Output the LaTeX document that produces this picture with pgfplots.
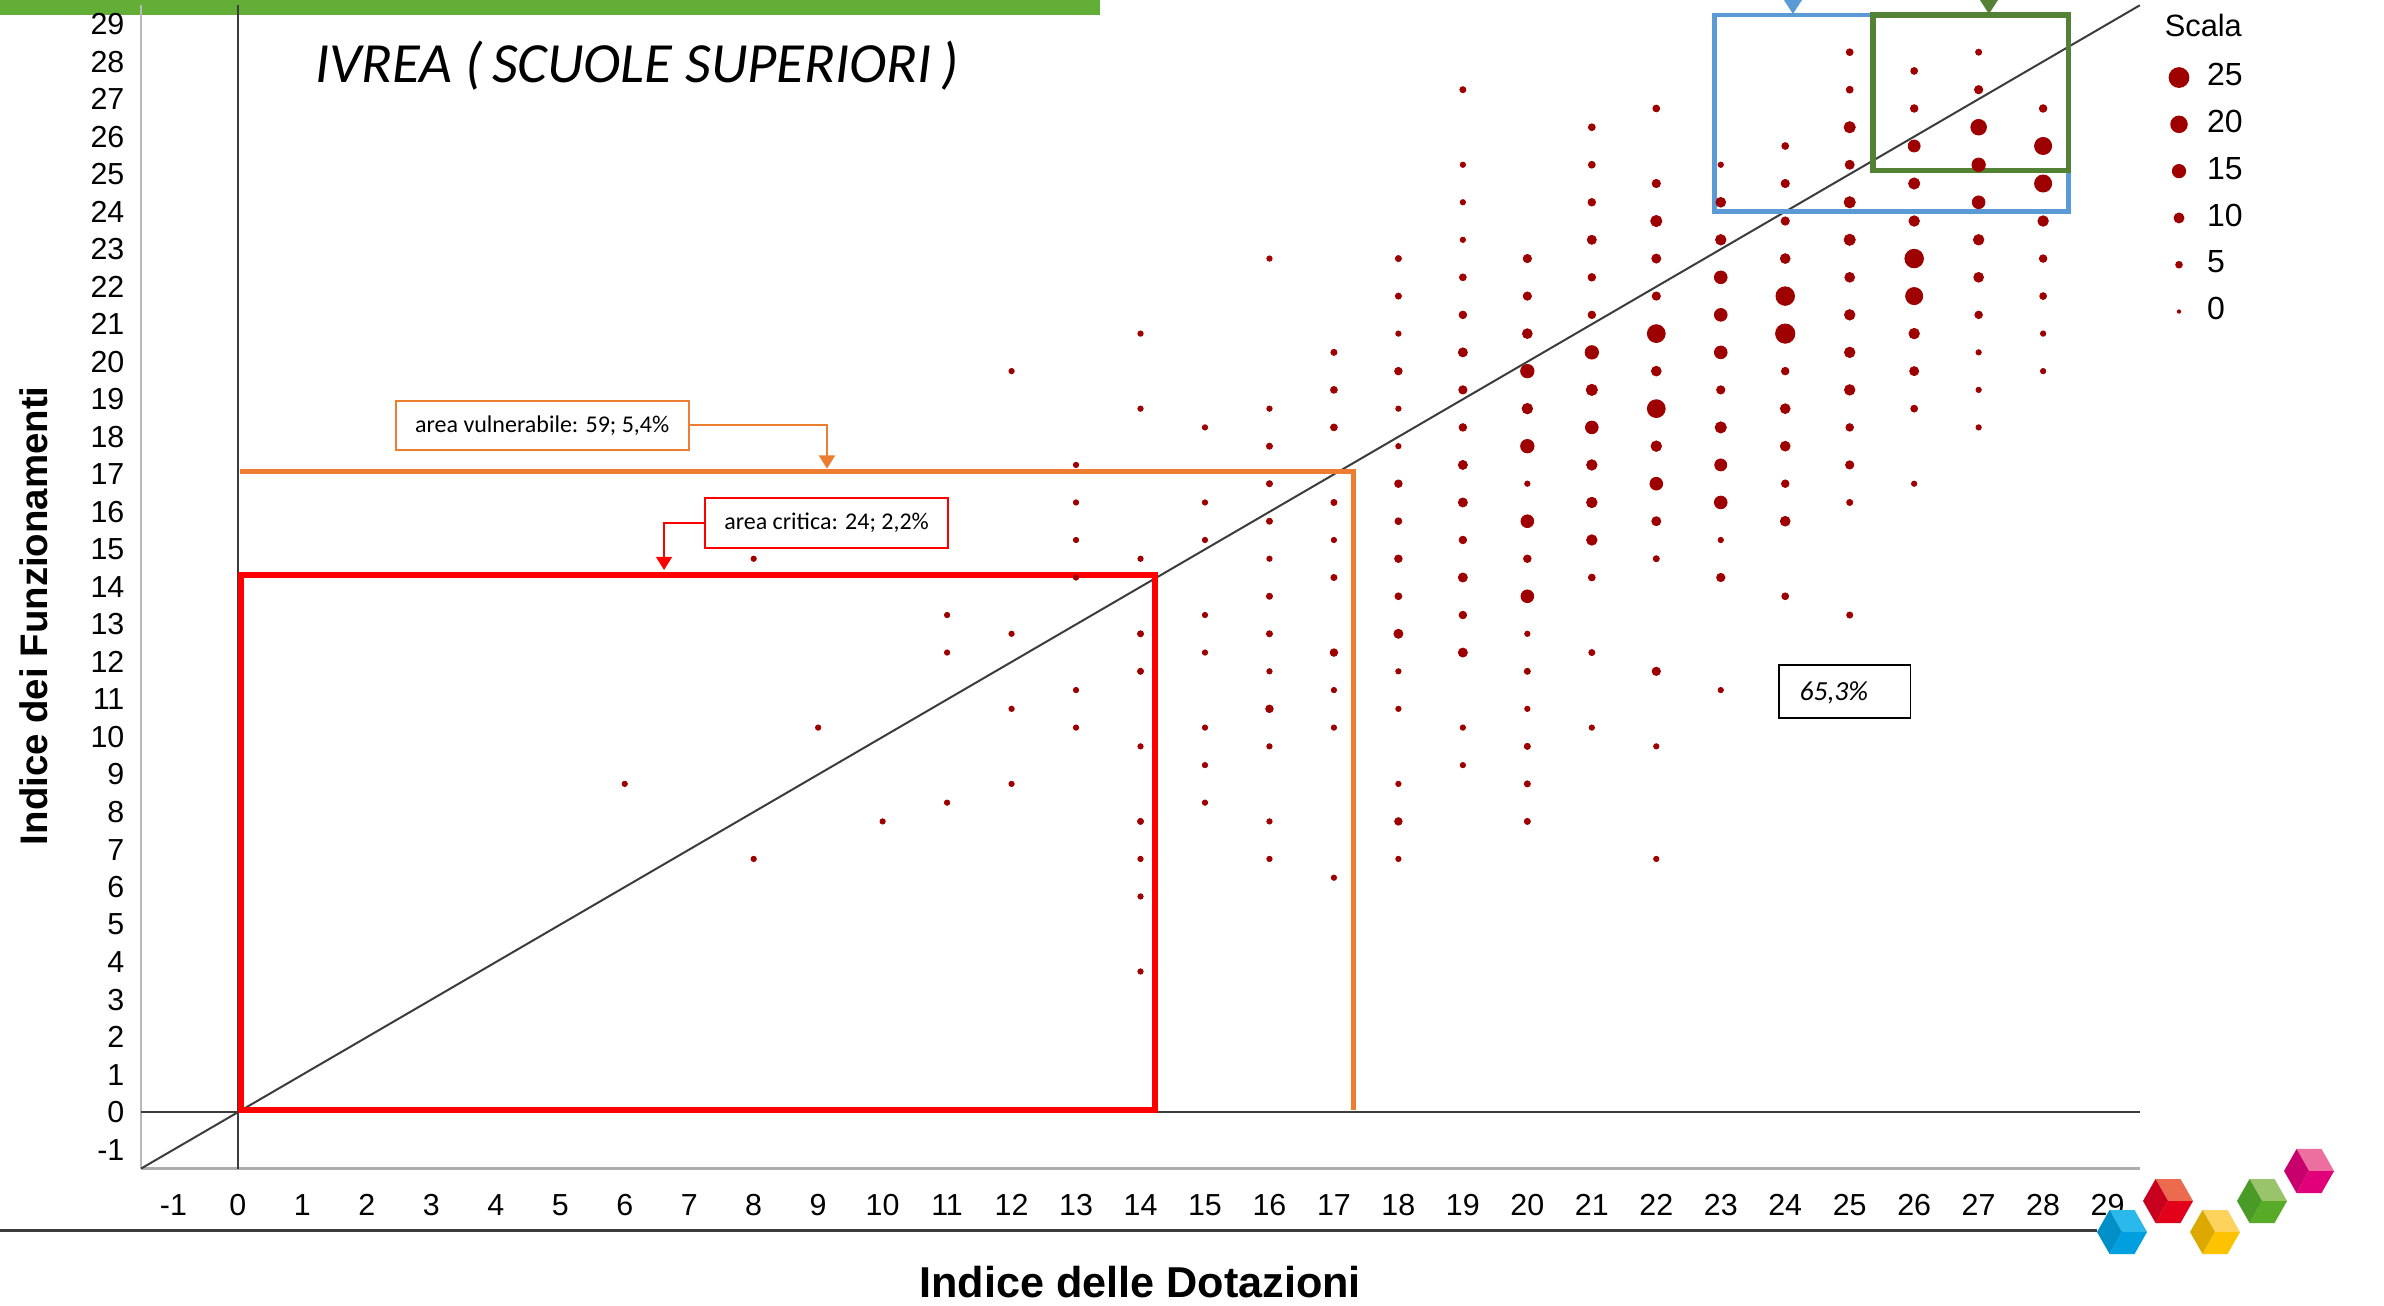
\documentclass[border=0pt]{standalone}
\usepackage{pgfplots}
\usepackage{pgfplotstable}
\pgfplotsset{compat=1.18}
\usepackage{fontspec}
\setmainfont{Carlito}
\newfontfamily\arialf{Liberation Sans}
\usetikzlibrary{arrows.meta}

\definecolor{dotred}{RGB}{158,0,0}
\definecolor{vorange}{RGB}{237,125,49}
\definecolor{cblue}{RGB}{91,155,213}
\definecolor{cgreen}{RGB}{84,130,53}
\definecolor{topgreen}{RGB}{98,174,54}
\definecolor{refgray}{RGB}{60,60,60}
% colori del logo
\definecolor{bluA}{RGB}{43,184,234}\definecolor{bluB}{RGB}{0,144,200}\definecolor{bluC}{RGB}{0,159,224}
\definecolor{redA}{RGB}{236,107,79}\definecolor{redB}{RGB}{200,0,30}\definecolor{redC}{RGB}{227,0,27}
\definecolor{yelA}{RGB}{253,211,93}\definecolor{yelB}{RGB}{219,169,0}\definecolor{yelC}{RGB}{253,195,0}
\definecolor{grnA}{RGB}{154,196,107}\definecolor{grnB}{RGB}{74,154,39}\definecolor{grnC}{RGB}{88,171,39}
\definecolor{pnkA}{RGB}{236,111,160}\definecolor{pnkB}{RGB}{200,0,110}\definecolor{pnkC}{RGB}{226,0,122}

% x = Indice delle Dotazioni, y = Indice dei Funzionamenti, c = numero di scuole
\pgfplotstableread{
x y c
6 8.75 1
8 14.75 1
8 6.75 1
9 10.25 1
10 7.75 1
11 13.25 1
11 12.25 1
11 8.25 1
12 19.75 1
12 12.75 1
12 10.75 1
12 8.75 1
13 17.25 1
13 16.25 1
13 15.25 1
13 14.25 1
13 11.25 1
13 10.25 1
14 20.75 1
14 18.75 1
14 14.75 1
14 12.75 2
14 11.75 2
14 9.75 1
14 7.75 2
14 6.75 1
14 5.75 1
14 3.75 1
15 18.25 1
15 16.25 1
15 15.25 1
15 13.25 1
15 12.25 1
15 10.25 1
15 9.25 1
15 8.25 1
16 22.75 1
16 18.75 1
16 17.75 2
16 16.75 2
16 15.75 2
16 14.75 1
16 13.75 2
16 12.75 2
16 11.75 1
16 10.75 4
16 9.75 1
16 7.75 1
16 6.75 1
17 20.25 2
17 19.25 3
17 18.25 3
17 16.25 2
17 15.25 1
17 14.25 2
17 12.25 4
17 11.25 1
17 10.25 1
17 6.25 1
18 22.75 2
18 21.75 2
18 20.75 1
18 19.75 4
18 18.75 1
18 17.75 1
18 16.75 4
18 15.75 3
18 14.75 4
18 13.75 3
18 12.75 6
18 11.75 1
18 10.75 1
18 8.75 1
18 7.75 4
18 6.75 1
19 27.25 2
19 25.25 1
19 24.25 1
19 23.25 1
19 22.25 3
19 21.25 4
19 20.25 6
19 19.25 5
19 18.25 4
19 17.25 6
19 16.25 6
19 15.25 4
19 14.25 6
19 13.25 4
19 12.25 6
19 10.25 1
19 9.25 1
20 22.75 5
20 21.75 5
20 20.75 7
20 19.75 12
20 18.75 8
20 17.75 12
20 16.75 1
20 15.75 11
20 14.75 4
20 13.75 11
20 12.75 1
20 11.75 2
20 10.75 1
20 9.75 2
20 8.75 2
20 7.75 2
21 26.25 3
21 25.25 3
21 24.25 4
21 23.25 6
21 22.25 4
21 21.25 4
21 20.25 12
21 19.25 9
21 18.25 11
21 17.25 8
21 16.25 8
21 15.25 8
21 14.25 3
21 12.25 2
21 10.25 1
22 26.75 3
22 24.75 5
22 23.75 9
22 22.75 6
22 21.75 5
22 20.75 18
22 19.75 7
22 18.75 18
22 17.75 8
22 16.75 11
22 15.75 6
22 14.75 2
22 11.75 5
22 9.75 1
22 6.75 1
23 25.25 1
23 24.25 7
23 23.25 8
23 22.25 11
23 21.25 11
23 20.25 11
23 19.25 5
23 18.25 9
23 17.25 10
23 16.25 11
23 15.25 1
23 14.25 5
23 11.25 1
24 25.75 3
24 24.75 5
24 23.75 5
24 22.75 7
24 21.75 19
24 20.75 20
24 19.75 4
24 18.75 7
24 17.75 7
24 16.75 4
24 15.75 7
24 13.75 3
25 28.25 3
25 27.25 3
25 26.25 9
25 25.25 6
25 24.25 9
25 23.25 9
25 22.25 7
25 21.25 8
25 20.25 8
25 19.25 8
25 18.25 4
25 17.25 5
25 16.25 2
25 13.25 2
26 27.75 3
26 26.75 4
26 25.75 10
26 24.75 9
26 23.75 8
26 22.75 19
26 21.75 17
26 20.75 8
26 19.75 6
26 18.75 3
26 16.75 1
27 28.25 2
27 27.25 5
27 26.25 15
27 25.25 12
27 24.25 11
27 23.25 8
27 22.25 7
27 21.25 4
27 20.25 1
27 19.25 1
27 18.25 1
28 26.75 4
28 25.75 17
28 24.75 17
28 23.75 8
28 22.75 4
28 21.75 3
28 20.75 1
28 19.75 1
}\dotdata

\newcommand{\cube}[5]{%
  \begin{scope}[shift={(#1,#2)}]
    \fill[#3] (-3.125pt,5.5pt) -- (3.125pt,5.5pt) -- (6.25pt,0pt) -- (0pt,0pt) -- cycle;
    \fill[#4] (-6.25pt,0pt) -- (-3.125pt,5.5pt) -- (0pt,0pt) -- (-3.125pt,-5.5pt) -- cycle;
    \fill[#5] (0pt,0pt) -- (6.25pt,0pt) -- (3.125pt,-5.5pt) -- (-3.125pt,-5.5pt) -- cycle;
  \end{scope}}

\pgfplotsset{legdot/.style={legend image code/.code={%
  \path[draw=none, fill=none] (-5pt,-5.85pt) rectangle (7pt,5.85pt);
  \fill[dotred, draw=none] (0pt,0pt) circle (#1);}}}

\begin{document}
\begin{tikzpicture}
\useasboundingbox (0pt,0pt) rectangle (596pt,326.25pt);

% barra verde in alto
\fill[topgreen] (0pt,322.5pt) rectangle (275pt,326.25pt);

\begin{axis}[
  at={(35.3pt,34.125pt)}, anchor=south west,
  scale only axis, width=499.65pt, height=290.8pt,
  xmin=-1.5, xmax=29.5, ymin=-1.5, ymax=29.5,
  xtick={-1,0,...,29}, ytick={-1,0,...,29},
  major tick length=0pt, tick style={draw=none},
  axis x line*=bottom, axis y line*=left,
  x axis line style={draw=gray!65, line width=0.9pt},
  y axis line style={draw=gray!55, line width=0.4pt},
  clip=false,
  /pgf/number format/assume math mode=true,
  tick label style={font=\arialf\fontsize{7.6}{8}\selectfont},
  xticklabel style={anchor=north, inner sep=0pt, yshift=-6.2pt},
  yticklabel style={anchor=east, inner sep=0pt, xshift=-4pt},
  xlabel={Indice delle Dotazioni},
  ylabel={Indice dei Funzionamenti},
  xlabel style={at={(axis description cs:0.4998,-0.0976)}, anchor=center,
    font=\arialf\bfseries\fontsize{10.8}{12}\selectfont},
  ylabel style={at={(axis description cs:-0.0539,0.4752)}, anchor=center,
    font=\arialf\bfseries\fontsize{9.6}{11}\selectfont},
  title={IVREA (\,SCUOLE SUPERIORI\,)},
  every axis title shift=0pt,
  title style={at={(axis description cs:0.080,0.934)}, anchor=base west,
    font=\itshape\fontsize{14.2}{16}\selectfont},
  legend style={draw=none, fill=none, inner sep=0pt, outer sep=0pt,
    nodes={inner sep=0pt}, row sep=0pt,
    at={(axis description cs:1.0096,0.9580)}, anchor=north west,
    font=\arialf\fontsize{8}{9}\selectfont},
  legend cell align=left,
]

\addplot[scatter, only marks, mark=*, forget plot,
  scatter/use mapped color={draw=dotred, fill=dotred},
  mark options={line width=0.2pt},
  point meta=\thisrow{c},
  visualization depends on={0.58+0.092*\thisrow{c} \as \msize},
  scatter/@pre marker code/.append style={/tikz/mark size=\msize}
] table[x=x, y=y] {\dotdata};

% linee di riferimento
\draw[refgray, line width=0.6pt] (axis cs:-1.5,0) -- (axis cs:29.5,0);
\draw[refgray, line width=0.6pt] (axis cs:0,-1.5) -- (axis cs:0,29.5);
\draw[refgray, line width=0.5pt] (axis cs:-1.5,-1.5) -- (axis cs:29.5,29.5);

% area vulnerabile e area critica
\draw[vorange, line width=1.15pt] (axis cs:0.03,17.08) -- (axis cs:17.3,17.08) -- (axis cs:17.3,0.05);
\draw[red, line width=1.5pt] (axis cs:0.05,0.05) rectangle (axis cs:14.23,14.33);

% riquadri in alto a destra
\draw[cblue, line width=1.15pt] (axis cs:22.9,24.0) rectangle (axis cs:28.39,29.24);
\draw[cgreen, line width=1.3pt] (axis cs:25.36,25.09) rectangle (axis cs:28.39,29.24);
\fill[cblue] (axis cs:23.98,29.64) -- (axis cs:24.26,29.64) -- (axis cs:24.12,29.27) -- cycle;
\fill[cgreen] (axis cs:27.02,29.64) -- (axis cs:27.30,29.64) -- (axis cs:27.16,29.27) -- cycle;

% etichette
\draw[vorange, line width=0.5pt, fill=white] (axis cs:2.45,17.65) rectangle (axis cs:7.0,18.96);
\node[font=\fontsize{6}{7}\selectfont, inner sep=0pt] at (axis cs:4.72,18.30) {area vulnerabile: 59; 5,4\%};
\draw[vorange, line width=0.4pt, -{Triangle[width=4pt,length=3.3pt]}]
  (axis cs:7.0,18.32) -- (axis cs:9.137,18.32) -- (axis cs:9.137,17.15);

\draw[red, line width=0.5pt, fill=white] (axis cs:7.245,15.04) rectangle (axis cs:11.02,16.37);
\node[font=\fontsize{6}{7}\selectfont, inner sep=0pt] at (axis cs:9.13,15.70) {area critica: 24; 2,2\%};
\draw[red, line width=0.4pt, -{Triangle[width=4pt,length=3.3pt]}]
  (axis cs:7.245,15.70) -- (axis cs:6.61,15.70) -- (axis cs:6.61,14.45);

\draw[black, line width=0.4pt, fill=white] (axis cs:23.90,10.51) rectangle (axis cs:25.94,11.92);
\node[font=\itshape\fontsize{6.9}{8}\selectfont, inner sep=0pt, anchor=base west] at (axis cs:24.21,10.96) {65,3\%};

% legenda
\addlegendimage{legdot=2.60pt}\addlegendentry{25}
\addlegendimage{legdot=2.19pt}\addlegendentry{20}
\addlegendimage{legdot=1.78pt}\addlegendentry{15}
\addlegendimage{legdot=1.37pt}\addlegendentry{10}
\addlegendimage{legdot=0.95pt}\addlegendentry{5}
\addlegendimage{legdot=0.54pt}\addlegendentry{0}
\end{axis}

\node[font=\arialf\fontsize{7.7}{9}\selectfont, anchor=base west, inner sep=0pt] at (541pt,317pt) {Scala};

% linea della diapositiva
\draw[refgray, line width=0.75pt] (0pt,18.75pt) -- (524.25pt,18.75pt);

% logo
\cube{530.5pt}{18.25pt}{bluA}{bluB}{bluC}
\cube{542pt}{26pt}{redA}{redB}{redC}
\cube{553.75pt}{18.25pt}{yelA}{yelB}{yelC}
\cube{565.5pt}{26pt}{grnA}{grnB}{grnC}
\cube{577.25pt}{33.5pt}{pnkA}{pnkB}{pnkC}
\end{tikzpicture}
\end{document}
